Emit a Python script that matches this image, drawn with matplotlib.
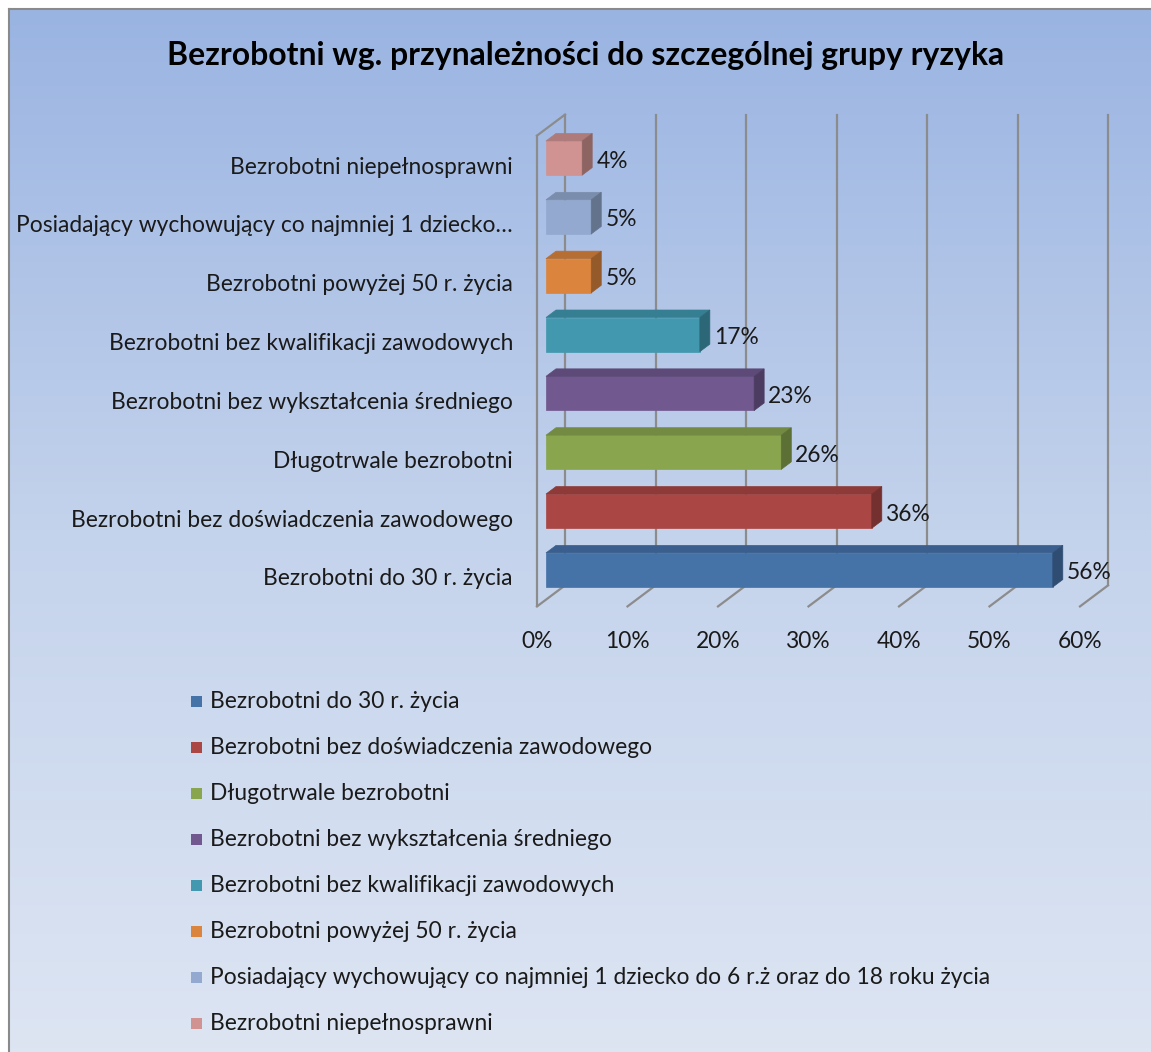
import numpy as np
import matplotlib
matplotlib.use('Agg')
import matplotlib.pyplot as plt
from matplotlib.patches import Polygon, Rectangle
from matplotlib.lines import Line2D
from matplotlib.colors import LinearSegmentedColormap

title = "Bezrobotni wg. przynależności do szczególnej grupy ryzyka"
categories = [
    "Bezrobotni do 30 r. życia",
    "Bezrobotni bez doświadczenia zawodowego",
    "Długotrwale bezrobotni",
    "Bezrobotni bez wykształcenia średniego",
    "Bezrobotni bez kwalifikacji zawodowych",
    "Bezrobotni powyżej 50 r. życia",
    "Posiadający wychowujący co najmniej 1 dziecko do 6 r.ż oraz do 18 roku życia",
    "Bezrobotni niepełnosprawni",
]
axis_labels = [
    "Bezrobotni do 30 r. życia",
    "Bezrobotni bez doświadczenia zawodowego",
    "Długotrwale bezrobotni",
    "Bezrobotni bez wykształcenia średniego",
    "Bezrobotni bez kwalifikacji zawodowych",
    "Bezrobotni powyżej 50 r. życia",
    "Posiadający wychowujący co najmniej 1 dziecko…",
    "Bezrobotni niepełnosprawni",
]
values = [56, 36, 26, 23, 17, 5, 5, 4]
value_labels = ["56%", "36%", "26%", "23%", "17%", "5%", "5%", "4%"]
front_colors = ["#4572A7", "#AA4643", "#89A54E", "#71588F", "#4198AF", "#DB843D", "#93A9CF", "#D19392"]
top_colors = ["#3A5F8E", "#8E3A38", "#728A41", "#5E4A78", "#367F93", "#B76E33", "#7B8DAD", "#AF7B7A"]
side_colors = ["#2F4D73", "#73302E", "#5C6F35", "#4C3C61", "#2C6777", "#955A29", "#64738C", "#8E6463"]
xticks = [0, 10, 20, 30, 40, 50, 60]
xtick_labels = ["0%", "10%", "20%", "30%", "40%", "50%", "60%"]

W, H = 1151, 1052
FONT = "Lato"
TXT = "#1a1a1a"
fig = plt.figure(figsize=(W / 100, H / 100), dpi=100)
fig.patch.set_facecolor("white")

# background gradient
bg = fig.add_axes([9 / W, 0, 1 - 9 / W, (H - 9) / H])
grad = np.linspace(0, 1, 256).reshape(-1, 1)
cmap = LinearSegmentedColormap.from_list("bg", ["#9AB4E2", "#C4D3EC", "#DDE5F3"])
bg.imshow(grad, aspect="auto", cmap=cmap, extent=[0, 1, 0, 1], origin="upper")
bg.axis("off")
fig.add_artist(Line2D([9 / W, 9 / W], [0, (H - 9) / H], color="#8a8a8a", lw=1.5, transform=fig.transFigure))
fig.add_artist(Line2D([9 / W, 1], [(H - 9) / H] * 2, color="#8a8a8a", lw=1.5, transform=fig.transFigure))

renderer = fig.canvas.get_renderer()


def fit_size(s, target_px, weight="normal", base=14):
    t = fig.text(0, 0, s, fontsize=base, family=FONT, weight=weight)
    w = t.get_window_extent(renderer).width
    t.remove()
    return base * target_px / w


lab_fs = fit_size("Bezrobotni bez doświadczenia zawodowego", 444)
title_fs = fit_size(title, 842, weight="bold")

# main axes
y_bot, y_top = 599.4, 128.6
ax = fig.add_axes([546 / W, (H - y_bot) / H, 543 / W, (y_bot - y_top) / H])
ax.set_xlim(0, 60)
ax.set_ylim(-0.5, 7.5)
ax.axis("off")

p0 = ax.transData.transform((0, 0))
p1 = ax.transData.transform((1, 1))
sx, sy = p1[0] - p0[0], p1[1] - p0[1]


def px(dx, dy):
    return dx / sx, dy / sy


fx, fy = px(-9, -7)
bx, by = px(19, 14)
gcol = "#8c8c8c"
glw = 1.6
for v, tl in zip(xticks, xtick_labels):
    ax.plot([v + bx, v + bx], [-0.5 + by, 7.5 + by], color=gcol, lw=glw, clip_on=False, zorder=1)
    ax.plot([v + bx, v + fx], [-0.5 + by, -0.5 + fy], color=gcol, lw=glw, clip_on=False, zorder=1)
    tx, ty = px(0, -35)
    ax.text(v + fx, -0.5 + fy + ty, tl, ha="center", va="center", fontsize=lab_fs,
            family=FONT, color=TXT)
ax.plot([fx, fx], [-0.5 + fy, 7.5 + fy], color=gcol, lw=glw, clip_on=False, zorder=1)
ax.plot([fx, bx], [7.5 + fy, 7.5 + by], color=gcol, lw=glw, clip_on=False, zorder=1)

h = 0.58
ddx, ddy = px(10, 7.5)
for i, v in enumerate(values):
    y0, y1 = i - h / 2, i + h / 2
    ax.add_patch(Rectangle((0, y0), v, h, facecolor=front_colors[i], edgecolor=front_colors[i],
                           lw=0.5, zorder=3, clip_on=False))
    ax.add_patch(Polygon([(0, y1), (v, y1), (v + ddx, y1 + ddy), (ddx, y1 + ddy)],
                         closed=True, facecolor=top_colors[i], edgecolor=top_colors[i], lw=0.5,
                         zorder=3, clip_on=False))
    ax.add_patch(Polygon([(v, y0), (v + ddx, y0 + ddy), (v + ddx, y1 + ddy), (v, y1)],
                         closed=True, facecolor=side_colors[i], edgecolor=side_colors[i], lw=0.5,
                         zorder=3, clip_on=False))
    lx, ly = px(14, -3)
    ax.text(v + lx, i + ly, value_labels[i], ha="left", va="center", fontsize=lab_fs,
            family=FONT, color=TXT, zorder=4)
    cx, cy = px(-24, -9)
    ax.text(fx + cx, i + cy, axis_labels[i], ha="right", va="center", fontsize=lab_fs,
            family=FONT, color=TXT)

# title
fig.text(586 / W, 1 - 55 / H, title, ha="center", va="center", fontsize=title_fs,
         family=FONT, weight="bold", color="black")

# legend
for k, cat in enumerate(categories):
    yc = 701 + 46 * k
    fig.patches.append(Rectangle(((191) / W, 1 - (yc + 5.5) / H), 11 / W, 11 / H,
                                 facecolor=front_colors[k], edgecolor="none",
                                 transform=fig.transFigure, figure=fig))
    fig.text(210 / W, 1 - yc / H, cat, ha="left", va="center", fontsize=lab_fs,
             family=FONT, color=TXT)

fig.savefig("out.png", dpi=100)
